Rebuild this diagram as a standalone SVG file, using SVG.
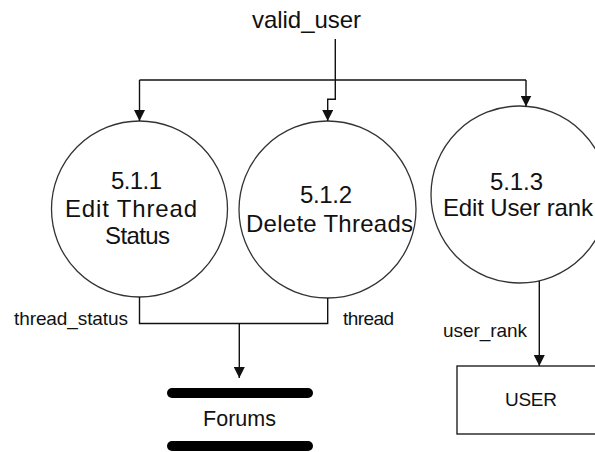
<svg xmlns="http://www.w3.org/2000/svg" width="595" height="452" viewBox="0 0 595 452">
<style>
.t{font-family:"Liberation Sans",Arial,sans-serif;fill:#111;}
.b{font-size:24px;}
.s{font-size:19px;}
.c{fill:#fff;stroke:#333;stroke-width:1.3;}
.e{fill:none;stroke:#111;stroke-width:1.4;}
</style>
<defs>
<marker id="ah" viewBox="0 0 10 10" refX="10" refY="5" markerWidth="11" markerHeight="11" markerUnits="userSpaceOnUse" orient="auto">
<path d="M0,0 L10,5 L0,10 z" fill="#111"/>
</marker>
</defs>
<rect width="595" height="452" fill="#fff"/>
<g id="p511">
<circle class="c" cx="139.5" cy="209" r="88"/>
<text class="t b" x="111" y="189" textLength="51" lengthAdjust="spacing">5.1.1</text>
<text class="t b" x="65" y="217" textLength="132" lengthAdjust="spacing">Edit Thread</text>
<text class="t b" x="105" y="244" textLength="65" lengthAdjust="spacing">Status</text>
</g>
<g id="p512">
<circle class="c" cx="327.5" cy="209.5" r="88.5"/>
<text class="t b" x="300" y="203" textLength="52" lengthAdjust="spacing">5.1.2</text>
<text class="t b" x="246" y="231.5" textLength="167" lengthAdjust="spacing">Delete Threads</text>
</g>
<g id="p513">
<circle class="c" cx="519.5" cy="194.5" r="88.5"/>
<text class="t b" x="490" y="190" textLength="53" lengthAdjust="spacing">5.1.3</text>
<text class="t b" x="443" y="215.5" textLength="150" lengthAdjust="spacing">Edit User rank</text>
</g>
<g id="forums">
<line x1="172" y1="393" x2="308" y2="393" stroke="#000" stroke-width="10" stroke-linecap="round"/>
<line x1="172" y1="446" x2="308" y2="446" stroke="#000" stroke-width="10" stroke-linecap="round"/>
<text class="t" style="font-size:21.5px" x="203" y="425.5" textLength="73" lengthAdjust="spacing">Forums</text>
</g>
<g id="user">
<rect x="457" y="366" width="148" height="68" fill="#fff" stroke="#222" stroke-width="1.4"/>
<text class="t s" x="505" y="406" textLength="52" lengthAdjust="spacing">USER</text>
</g>
<g id="external">
<text class="t b" x="252" y="28" textLength="109" lengthAdjust="spacing">valid_user</text>
</g>
<g id="connectors">
<polyline class="e" points="139.5,80 526,80"/>
<line class="e" x1="139.5" y1="80" x2="139.5" y2="121" marker-end="url(#ah)"/>
<line class="e" x1="526" y1="80" x2="526" y2="106.5" marker-end="url(#ah)"/>
<polyline class="e" points="335.3,39 335.3,99.3 327.7,99.3 327.7,121" marker-end="url(#ah)"/>
<polyline class="e" points="139.5,297 139.5,323.5 327.7,323.5 327.7,298"/>
<line class="e" x1="239.3" y1="323.5" x2="239.3" y2="378" marker-end="url(#ah)"/>
<line class="e" x1="539.3" y1="281" x2="539.3" y2="366" marker-end="url(#ah)"/>
<text class="t s" x="14" y="325" textLength="114" lengthAdjust="spacing">thread_status</text>
<text class="t s" x="343" y="325" textLength="51" lengthAdjust="spacing">thread</text>
<text class="t s" x="443" y="337" textLength="84" lengthAdjust="spacing">user_rank</text>
</g>
</svg>
